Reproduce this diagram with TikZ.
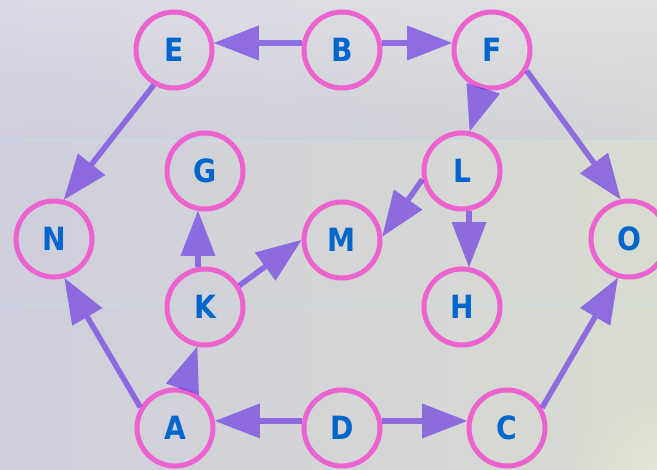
\documentclass[tikz,border=0pt]{standalone}
\usepackage{fontspec}
\setmainfont{Liberation Sans}
\newfontfamily\nodefont[FakeStretch=0.88]{DejaVu Sans}
\usetikzlibrary{arrows.meta}
\definecolor{ringc}{RGB}{236,98,206}
\definecolor{arrc}{RGB}{112,62,226}
\definecolor{txtc}{RGB}{0,102,204}
\definecolor{bgl}{RGB}{206,206,220}
\definecolor{bgm}{RGB}{214,216,218}
\definecolor{bgr}{RGB}{216,220,208}
\definecolor{bgtop}{RGB}{230,230,240}
\definecolor{blob}{RGB}{236,234,218}
\begin{document}
\begin{tikzpicture}[x=1pt,y=-1pt,
  vtx/.style={circle,draw=ringc,line width=5pt,minimum size=76pt,inner sep=0pt,
    text=txtc,font=\nodefont\bfseries\fontsize{32}{32}\selectfont},
  arr/.style={draw=arrc,line width=5.5pt,opacity=0.7,line cap=butt,
    -{Triangle[length=45pt,width=35pt,line width=0pt]}}]
% background
\useasboundingbox (0,0) rectangle (657,470);
\shade[left color=bgl,middle color=bgm,right color=bgr] (0,0) rectangle (657,470);
\shade[top color=bgtop,bottom color=bgl,opacity=0.5] (0,0) rectangle (657,140);
\fill[cyan!25,opacity=0.2] (0,139) rectangle (657,142);
\fill[cyan!25,opacity=0.2] (0,303) rectangle (657,306);
\shade[inner color=blob,outer color=bgr,opacity=0.6] (655,470) circle (80);
% nodes
\node[vtx] (E) at (174,50) {E};
\node[vtx] (B) at (342,50) {B};
\node[vtx] (F) at (492,50) {F};
\node[vtx] (G) at (205,171) {G};
\node[vtx] (L) at (462,171) {L};
\node[vtx] (N) at (54,239) {N};
\node[vtx] (M) at (342,240) {M};
\node[vtx] (O) at (629,239) {O};
\node[vtx] (K) at (205,307) {K};
\node[vtx] (H) at (462,307) {H};
\node[vtx] (A) at (175,428) {A};
\node[vtx] (D) at (342,428) {D};
\node[vtx] (C) at (507,428) {C};
% edges
\draw[arr] (B.170) -- (E.10);
\draw[arr] (B.10) -- (F.170);
\draw[arr] (E.240) -- (N.76);
\draw[arr] (A.149) -- (N.285);
\draw[arr] (A.79) -- (K.259);
\draw[arr] (K.100) -- (G.260);
\draw[arr] (K.32) -- (M.180);
\draw[arr] (L.192) -- (M.5);
\draw[arr] (L.280) -- (H.80);
\draw[arr] (F.257) -- (L.79);
\draw[arr] (F.329) -- (O.102);
\draw[arr] (C.30) -- (O.254);
\draw[arr] (D.170) -- (A.10);
\draw[arr] (D.10) -- (C.170);
\end{tikzpicture}
\end{document}
